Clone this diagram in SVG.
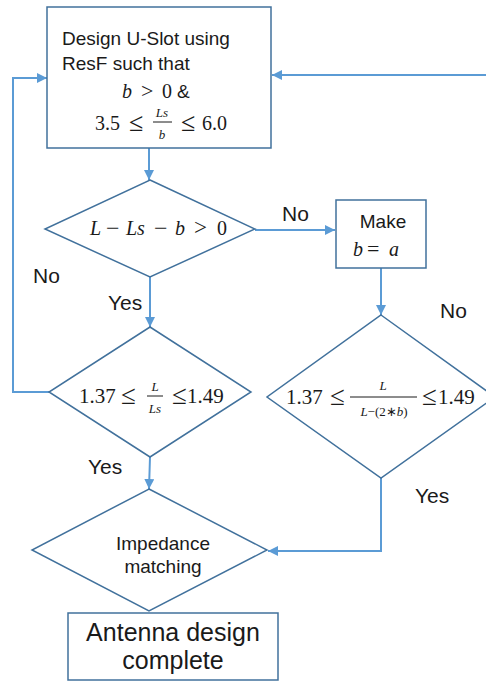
<svg xmlns="http://www.w3.org/2000/svg" width="486" height="682" viewBox="0 0 486 682">
<defs>
<marker id="ah" viewBox="0 0 10 10" refX="10" refY="5" markerWidth="10" markerHeight="10" markerUnits="userSpaceOnUse" orient="auto">
<path d="M0,0 L10,5 L0,10 z" fill="#5B9BD5"/>
</marker>
<style>
.node{fill:#fff;stroke:#41719C;stroke-width:1.5}
.con{fill:none;stroke:#5B9BD5;stroke-width:2;marker-end:url(#ah)}
.t{font-family:"Liberation Sans",Arial,sans-serif;fill:#1a1a1a}
.m{font-family:"Liberation Serif","Times New Roman",serif;fill:#1a1a1a}
.i{font-style:italic}
.lbl{font-family:"Liberation Sans",Arial,sans-serif;font-size:21px;fill:#1a1a1a}
.bar{stroke:#1a1a1a;stroke-width:1}
</style>
</defs>
<rect width="486" height="682" fill="#fff"/>
<g id="connectors">
<path class="con" d="M149,148 L149,180"/>
<path class="con" d="M255,230 L335,230"/>
<path class="con" d="M381,268 L381,315"/>
<path class="con" d="M150,277 L150,327"/>
<path class="con" d="M150,457 L149,489"/>
<path class="con" d="M381,478 L381,551 L268,551"/>
<path class="con" d="M49,392 L13,392 L13,78 L47,78"/>
<path class="con" d="M486,75 L272,75"/>
</g>
<g id="labels">
<text class="lbl" x="282" y="221">No</text>
<text class="lbl" x="33" y="283">No</text>
<text class="lbl" x="108" y="310">Yes</text>
<text class="lbl" x="440" y="318">No</text>
<text class="lbl" x="88" y="474">Yes</text>
<text class="lbl" x="415" y="503">Yes</text>
</g>
<g id="design">
<rect class="node" x="47" y="7" width="224" height="141"/>
<text class="t" x="62" y="45" font-size="19">Design U-Slot using</text>
<text class="t" x="62" y="70" font-size="19">ResF such that</text>
<text class="m i" x="122" y="98" font-size="20">b</text>
<text class="m" x="141" y="98" font-size="22">&gt;</text>
<text class="m" x="162" y="98" font-size="20">0</text>
<text class="t" x="177" y="98" font-size="19">&amp;</text>
<text class="m" x="95" y="130" font-size="20">3.5</text>
<text class="m" x="129" y="131" font-size="26">≤</text>
<text class="m i" x="162" y="117" font-size="13" text-anchor="middle">Ls</text>
<line class="bar" x1="153" y1="122" x2="172" y2="122"/>
<text class="m i" x="162" y="139" font-size="13" text-anchor="middle">b</text>
<text class="m" x="181" y="131" font-size="26">≤</text>
<text class="m" x="202" y="130" font-size="20">6.0</text>
</g>
<g id="check1">
<polygon class="node" points="150,180 255,229 150,277 45,229"/>
<text class="m i" x="90" y="235" font-size="20">L</text>
<text class="m" x="106" y="236" font-size="24">−</text>
<text class="m i" x="126" y="235" font-size="20">Ls</text>
<text class="m" x="154" y="236" font-size="24">−</text>
<text class="m i" x="175" y="235" font-size="20">b</text>
<text class="m" x="194" y="235" font-size="23">&gt;</text>
<text class="m" x="217" y="235" font-size="20">0</text>
</g>
<g id="make">
<rect class="node" x="336" y="200" width="90" height="68"/>
<text class="t" x="383" y="228" font-size="19" text-anchor="middle">Make</text>
<text class="m i" x="353" y="256" font-size="20">b</text>
<text class="m" x="367" y="256" font-size="22">=</text>
<text class="m i" x="389" y="256" font-size="20">a</text>
</g>
<g id="check2">
<polygon class="node" points="150,327 251,392 150,457 49,392"/>
<text class="m" x="79" y="403" font-size="21">1.37</text>
<text class="m" x="121" y="404" font-size="27">≤</text>
<text class="m i" x="155" y="391" font-size="13" text-anchor="middle">L</text>
<line class="bar" x1="147" y1="396" x2="163" y2="396"/>
<text class="m i" x="155" y="413" font-size="13" text-anchor="middle">Ls</text>
<text class="m" x="172" y="404" font-size="27">≤</text>
<text class="m" x="187" y="403" font-size="21">1.49</text>
</g>
<g id="check3">
<polygon class="node" points="381,315 495,397 381,478 267,397"/>
<text class="m" x="286" y="404" font-size="21">1.37</text>
<text class="m" x="330" y="405" font-size="27">≤</text>
<text class="m i" x="383" y="390" font-size="13" text-anchor="middle">L</text>
<line class="bar" x1="350" y1="397" x2="417" y2="397"/>
<text class="m" x="384" y="416" font-size="13" text-anchor="middle"><tspan class="i">L</tspan>−(2∗<tspan class="i">b</tspan>)</text>
<text class="m" x="422" y="405" font-size="27">≤</text>
<text class="m" x="438" y="404" font-size="21">1.49</text>
</g>
<g id="impedance">
<polygon class="node" points="149,489 267,550 149,611 32,550"/>
<text class="t" x="163" y="550" font-size="19" text-anchor="middle">Impedance</text>
<text class="t" x="163" y="573" font-size="19" text-anchor="middle">matching</text>
</g>
<g id="complete">
<rect class="node" x="68" y="613" width="210" height="67"/>
<text class="t" x="173" y="641" font-size="25" text-anchor="middle">Antenna design</text>
<text class="t" x="173" y="669" font-size="25" text-anchor="middle">complete</text>
</g>
</svg>
